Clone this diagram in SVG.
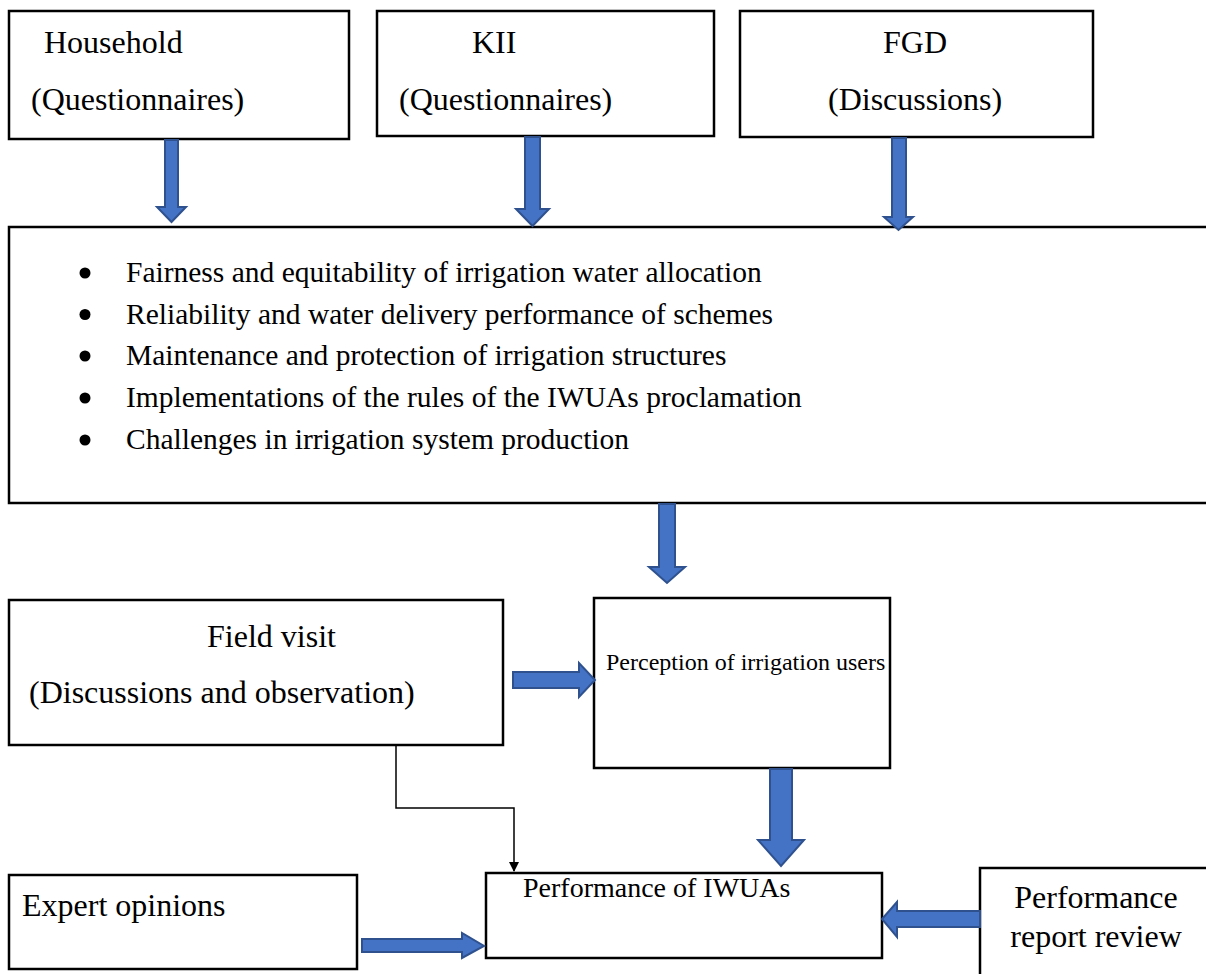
<svg xmlns="http://www.w3.org/2000/svg" width="1206" height="974" viewBox="0 0 1206 974">
<defs>
<style>
.box{fill:#fff;stroke:#000;stroke-width:2.5}
.t{font-family:"Liberation Serif","Times New Roman",serif;font-size:32px;fill:#000}
.tb{font-family:"Liberation Serif","Times New Roman",serif;font-size:29.5px;fill:#000}
.ba{fill:#4472C4;stroke:#2F528F;stroke-width:2;stroke-linejoin:miter}
.ln{fill:none;stroke:#000;stroke-width:1.5}
</style>
<marker id="ah" markerWidth="10" markerHeight="10" refX="9" refY="5" orient="auto" markerUnits="userSpaceOnUse">
<path d="M0,0 L10,5 L0,10 Z" fill="#000"/>
</marker>
</defs>
<rect width="1206" height="974" fill="#fff"/>
<g id="household">
<rect class="box" x="9" y="11" width="340" height="128"/>
<text class="t" x="44" y="53">Household</text>
<text class="t" x="31" y="110">(Questionnaires)</text>
</g>
<g id="kii">
<rect class="box" x="377" y="11" width="337" height="125"/>
<text class="t" x="472" y="53">KII</text>
<text class="t" x="399" y="110">(Questionnaires)</text>
</g>
<g id="fgd">
<rect class="box" x="740" y="11" width="353" height="126"/>
<text class="t" x="883" y="53">FGD</text>
<text class="t" x="828" y="110">(Discussions)</text>
</g>
<g id="criteria">
<rect class="box" x="9" y="227" width="1210" height="276"/>
<circle cx="85" cy="273" r="5.5"/>
<circle cx="85" cy="314.5" r="5.5"/>
<circle cx="85" cy="356" r="5.5"/>
<circle cx="85" cy="398" r="5.5"/>
<circle cx="85" cy="440" r="5.5"/>
<text class="tb" x="126" y="282">Fairness and equitability of irrigation water allocation</text>
<text class="tb" x="126" y="323.5">Reliability and water delivery performance of schemes</text>
<text class="tb" x="126" y="365">Maintenance and protection of irrigation structures</text>
<text class="tb" x="126" y="407">Implementations of the rules of the IWUAs proclamation</text>
<text class="tb" x="126" y="449">Challenges in irrigation system production</text>
</g>
<g id="fieldvisit">
<rect class="box" x="9" y="600" width="494" height="145"/>
<text class="t" x="207" y="647">Field visit</text>
<text class="t" x="29" y="703">(Discussions and observation)</text>
</g>
<g id="perception">
<rect class="box" x="594" y="598" width="296" height="170"/>
<text class="t" x="606" y="670" style="font-size:24px">Perception of irrigation users</text>
</g>
<g id="expert">
<rect class="box" x="9" y="875" width="348" height="94"/>
<text class="t" x="22" y="916">Expert opinions</text>
</g>
<g id="performance">
<rect class="box" x="486" y="873" width="396" height="85"/>
<text class="t" x="523" y="897" style="font-size:28px">Performance of IWUAs</text>
</g>
<g id="report">
<rect class="box" x="980" y="868" width="240" height="120"/>
<text class="t" x="1096" y="908" text-anchor="middle">Performance</text>
<text class="t" x="1096" y="947" text-anchor="middle">report review</text>
</g>
<g id="connectors">
<path class="ba" d="M165,140 H178 V207 H186 L171.5,222 L157,207 H165 Z"/>
<path class="ba" d="M525,137 H540 V209 H549 L532.5,226 L516,209 H525 Z"/>
<path class="ba" d="M892,138 H906 V217 H913 L898.5,230 L884,217 H892 Z"/>
<path class="ba" d="M659,504 H675 V567 H685 L667,583 L649,567 H659 Z"/>
<path class="ba" d="M770,769 H792 V840 H804 L781,866 L758,840 H770 Z"/>
<path class="ba" d="M513,672 H579 V663 L595,680 L579,697 V688 H513 Z"/>
<path class="ba" d="M362,939 H462 V933 L484,946 L462,958 V952 H362 Z"/>
<path class="ba" d="M980,911 H897 V902 L882,919 L897,937 V927 H980 Z"/>
<path class="ln" d="M396,746 V808 H514 V871" marker-end="url(#ah)"/>
</g>
</svg>
